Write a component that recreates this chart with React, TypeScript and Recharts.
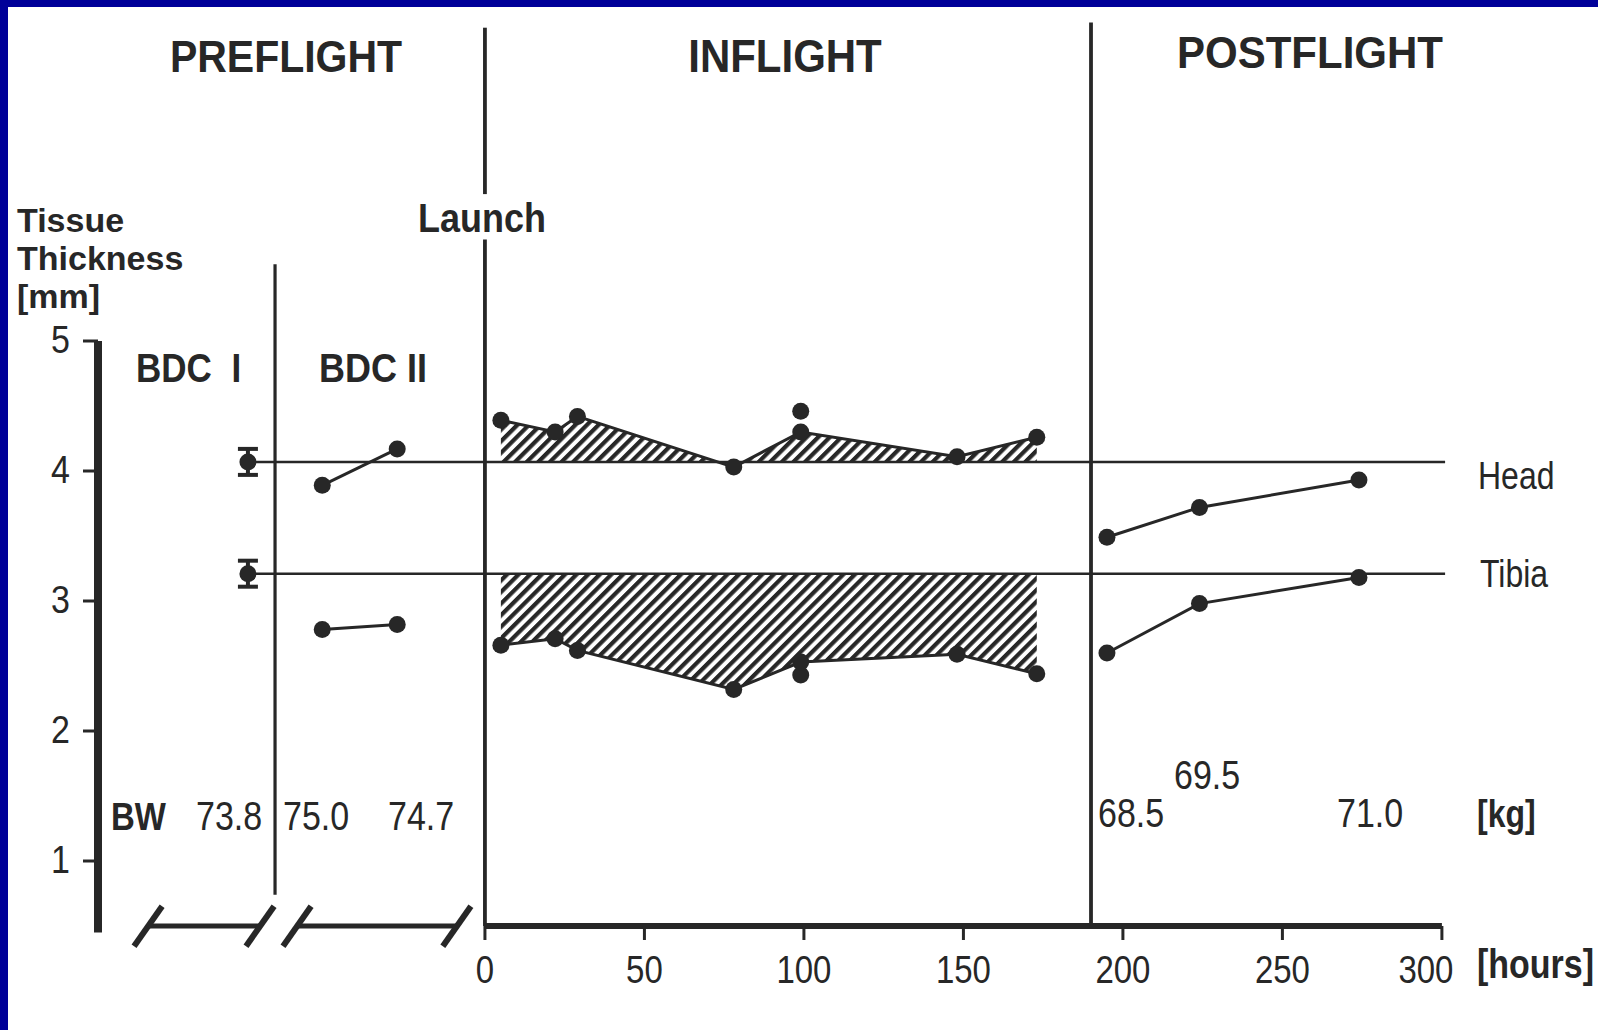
import {
  ComposedChart,
  Line,
  Area,
  Scatter,
  ErrorBar,
  XAxis,
  YAxis,
  ReferenceLine,
} from 'recharts'

const INK = '#272727'
const FRAME_BLUE = '#000099'
const FONT = '"Liberation Sans", Arial, Helvetica, sans-serif'

// x runs in flight hours; everything left of 0 is the schematic preflight part
const HOUR_TICKS = [0, 50, 100, 150, 200, 250, 300]
const MM_TICKS = [1, 2, 3, 4, 5]

const BDC1_X = [-74.3]
const BDC1_HEAD = [4.07]
const BDC1_TIBIA = [3.21]
const BDC1_SD = [0.1]

const BDC2_X = [-51, -27.5]
const BDC2_HEAD = [3.89, 4.17]
const BDC2_TIBIA = [2.78, 2.82]

const INFLIGHT_HOURS = [5, 22, 29, 78, 99, 148, 173]
const INFLIGHT_HEAD = [4.39, 4.3, 4.42, 4.03, 4.3, 4.11, 4.26]
const INFLIGHT_TIBIA = [2.66, 2.71, 2.62, 2.32, 2.53, 2.59, 2.44]

// second measurement taken at the same hour
const EXTRA_HOURS = [99]
const EXTRA_HEAD = [4.46]
const EXTRA_TIBIA = [2.43]

const POSTFLIGHT_HOURS = [195, 224, 274]
const POSTFLIGHT_HEAD = [3.49, 3.72, 3.93]
const POSTFLIGHT_TIBIA = [2.6, 2.98, 3.18]

const BODY_WEIGHT = ['73.8', '75.0', '74.7', '68.5', '69.5', '71.0']

const LAUNCH_X = 0
const LANDING_X = 190
const BDC_SPLIT_X = -65.8
const AXIS_BREAKS = [
  [-105.6, -70.5],
  [-58.9, -8.8],
]

const HEAD_BASELINE = BDC1_HEAD[0]
const TIBIA_BASELINE = BDC1_TIBIA[0]

const X_DOMAIN: [number, number] = [-121.3, 301.6]
const Y_DOMAIN: [number, number] = [0.5, 5]

const points = (xs: number[], ys: number[]) => xs.map((x, i) => ({ x, y: ys[i] }))

const inflightRows = INFLIGHT_HOURS.map((x, i) => ({
  x,
  headBand: [HEAD_BASELINE, INFLIGHT_HEAD[i]],
  tibiaBand: [INFLIGHT_TIBIA[i], TIBIA_BASELINE],
}))

const bdc1Rows = BDC1_X.flatMap((x, i) => [
  { x, y: BDC1_HEAD[i], err: BDC1_SD[i] },
  { x, y: BDC1_TIBIA[i], err: BDC1_SD[i] },
])

const seriesLines = [
  points(BDC2_X, BDC2_HEAD),
  points(BDC2_X, BDC2_TIBIA),
  points(INFLIGHT_HOURS, INFLIGHT_HEAD),
  points(INFLIGHT_HOURS, INFLIGHT_TIBIA),
  points(POSTFLIGHT_HOURS, POSTFLIGHT_HEAD),
  points(POSTFLIGHT_HOURS, POSTFLIGHT_TIBIA),
]

const extraDots = [...points(EXTRA_HOURS, EXTRA_HEAD), ...points(EXTRA_HOURS, EXTRA_TIBIA)]

// pixel spots for the body weight row
const BW_POS = [
  [196, 830],
  [283, 830],
  [388, 830],
  [1098, 827],
  [1174, 789],
  [1337, 827],
]

const DOT_R = 8.5
const DotShape = (p: any) => <circle cx={p.cx} cy={p.cy} r={DOT_R} fill={INK} />

function T({ x, y, size, bold = false, anchor = 'start', stretch = 1.2, wordSpacing, children }: any) {
  return (
    <text
      transform={`translate(${x} ${y}) scale(1 ${stretch})`}
      fontSize={size}
      fontWeight={bold ? 700 : 400}
      textAnchor={anchor}
      wordSpacing={wordSpacing}
      fill={INK}
      fontFamily={FONT}
    >
      {children}
    </text>
  )
}

const HourTick = ({ x, y, payload }: any) => (
  // the last label sits a little inside the axis end, next to [hours]
  <T x={payload.value === 300 ? x - 16 : x} y={y + 41} size={33} anchor="middle">
    {payload.value}
  </T>
)

const MmTick = ({ x, y, payload }: any) => (
  <T x={x - 11} y={y + 12} size={34} anchor="end" stretch={1.15}>
    {payload.value}
  </T>
)

function vline(x: number, y1: number, y2: number, w = 3.8) {
  return (
    <ReferenceLine
      segment={[
        { x, y: y1 },
        { x, y: y2 },
      ]}
      stroke={INK}
      strokeWidth={w}
      ifOverflow="visible"
    />
  )
}

export default function App() {
  return (
    <div style={{ position: 'absolute', left: 0, top: 0, width: 1598, height: 1030, background: '#fff' }}>
      <div style={{ position: 'absolute', left: 0, top: 0, width: 1598, height: 7, background: FRAME_BLUE }} />
      <div style={{ position: 'absolute', left: 0, top: 0, width: 8, height: 1030, background: FRAME_BLUE }} />
      <div style={{ position: 'absolute', left: 0, top: 0 }}>
        <ComposedChart width={1598} height={1030} margin={{ top: 341, right: 151, bottom: 44, left: 38 }}>
          <defs>
            <pattern id="hatch" width="8.2" height="8.2" patternUnits="userSpaceOnUse" patternTransform="rotate(45)">
              <rect x="0" y="0" width="4.2" height="8.2" fill={INK} />
            </pattern>
          </defs>
          <XAxis
            type="number"
            dataKey="x"
            domain={X_DOMAIN}
            ticks={HOUR_TICKS}
            axisLine={false}
            tickLine={{ stroke: INK, strokeWidth: 3 }}
            tickSize={14}
            height={60}
            tick={<HourTick />}
            interval={0}
          />
          <YAxis
            type="number"
            domain={Y_DOMAIN}
            ticks={MM_TICKS}
            axisLine={{ stroke: INK, strokeWidth: 8 }}
            tickLine={{ stroke: INK, strokeWidth: 3 }}
            tickSize={15}
            width={60}
            tick={<MmTick />}
            interval={0}
          />

          <Area
            data={inflightRows}
            dataKey="headBand"
            type="linear"
            stroke="none"
            fill="url(#hatch)"
            fillOpacity={1}
            isAnimationActive={false}
          />
          <Area
            data={inflightRows}
            dataKey="tibiaBand"
            type="linear"
            stroke="none"
            fill="url(#hatch)"
            fillOpacity={1}
            isAnimationActive={false}
          />

          {/* baselines from the BDC I means */}
          <ReferenceLine
            segment={[
              { x: BDC1_X[0], y: HEAD_BASELINE },
              { x: 301, y: HEAD_BASELINE },
            ]}
            stroke={INK}
            strokeWidth={2.5}
            ifOverflow="visible"
          />
          <ReferenceLine
            segment={[
              { x: BDC1_X[0], y: TIBIA_BASELINE },
              { x: 301, y: TIBIA_BASELINE },
            ]}
            stroke={INK}
            strokeWidth={2.5}
            ifOverflow="visible"
          />

          {/* phase separators */}
          {vline(LAUNCH_X, 7.41, 6.13)}
          {vline(LAUNCH_X, 5.78, 0.5)}
          {vline(LANDING_X, 7.45, 0.5)}
          {vline(BDC_SPLIT_X, 5.59, 0.74, 3.2)}
          {/* mm axis runs a little past the hours axis */}
          {vline(X_DOMAIN[0], 0.52, 0.45, 8)}

          {/* hours axis line and the broken preflight segments */}
          <ReferenceLine
            segment={[
              { x: 0, y: 0.5 },
              { x: 300, y: 0.5 },
            ]}
            stroke={INK}
            strokeWidth={6}
            ifOverflow="visible"
          />
          {AXIS_BREAKS.map(([a, b], i) => (
            <ReferenceLine
              key={`seg${i}`}
              segment={[
                { x: a, y: 0.5 },
                { x: b, y: 0.5 },
              ]}
              stroke={INK}
              strokeWidth={5}
              ifOverflow="visible"
            />
          ))}
          {AXIS_BREAKS.flat().map((e, i) => (
            <ReferenceLine
              key={`brk${i}`}
              segment={[
                { x: e - 4.4, y: 0.345 },
                { x: e + 4.4, y: 0.652 },
              ]}
              stroke={INK}
              strokeWidth={6}
              ifOverflow="visible"
            />
          ))}

          {seriesLines.map((d, i) => (
            <Line
              key={`l${i}`}
              data={d}
              dataKey="y"
              type="linear"
              stroke={INK}
              strokeWidth={3}
              dot={{ r: DOT_R, fill: INK, stroke: INK, strokeWidth: 0 }}
              activeDot={false}
              isAnimationActive={false}
            />
          ))}

          <Scatter data={extraDots} dataKey="y" shape={DotShape} isAnimationActive={false} />

          <Scatter data={bdc1Rows} dataKey="y" shape={DotShape} isAnimationActive={false}>
            <ErrorBar dataKey="err" direction="y" width={10} strokeWidth={4} stroke={INK} />
          </Scatter>
        </ComposedChart>
      </div>

      <svg
        width={1598}
        height={1030}
        style={{ position: 'absolute', left: 0, top: 0, pointerEvents: 'none' }}
      >
        <T x={286} y={72} size={41} bold anchor="middle" stretch={1.1}>PREFLIGHT</T>
        <T x={785} y={72} size={42} bold anchor="middle" stretch={1.1}>INFLIGHT</T>
        <T x={1310} y={68} size={42} bold anchor="middle" stretch={1.07}>POSTFLIGHT</T>

        <T x={17} y={232} size={34} bold stretch={1}>Tissue</T>
        <T x={17} y={270} size={34} bold stretch={1}>Thickness</T>
        <T x={17} y={308} size={34} bold stretch={1}>[mm]</T>

        <T x={418} y={232} size={36} bold stretch={1.12}>Launch</T>

        <T x={136} y={382} size={35} bold stretch={1.15} wordSpacing={10}>BDC I</T>
        <T x={319} y={382} size={36} bold stretch={1.15}>BDC II</T>

        <T x={1478} y={489} size={32}>Head</T>
        <T x={1480} y={587} size={32}>Tibia</T>

        <T x={111} y={830} size={33} bold stretch={1.2}>BW</T>
        {BODY_WEIGHT.map((w, i) => (
          <T key={w} x={BW_POS[i][0]} y={BW_POS[i][1]} size={34}>
            {w}
          </T>
        ))}
        <T x={1477} y={827} size={32} bold>[kg]</T>
        <T x={1477} y={978} size={34} bold>[hours]</T>
      </svg>
    </div>
  )
}
